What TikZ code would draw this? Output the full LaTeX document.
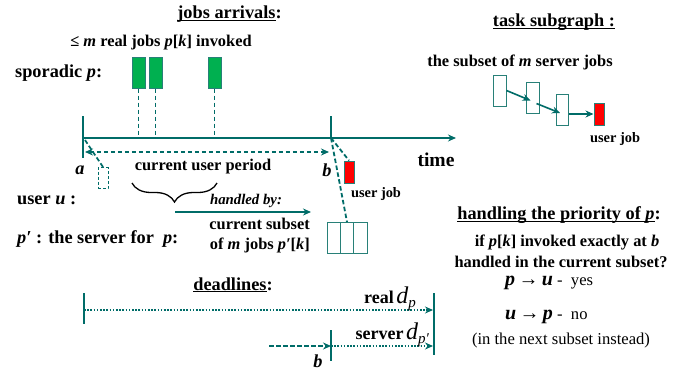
\documentclass[tikz,border=0pt]{standalone}
\usepackage{fontspec}
\setmainfont{Liberation Serif}
\usetikzlibrary{arrows.meta,decorations.pathreplacing,calc}
\definecolor{teal1}{RGB}{0,108,104}
\definecolor{jobgreen}{RGB}{0,176,80}
\definecolor{boxedge}{RGB}{40,128,120}
\newcommand{\fs}[1]{\fontsize{#1}{#1}\selectfont}
\newcommand{\ulx}[1]{\setbox0\hbox{#1}\rlap{\rule[-2.2pt]{\wd0}{1pt}}\box0}
\begin{document}
\begin{tikzpicture}[x=1pt,y=-1pt,
 lbl/.style={font=\fontsize{16.4}{20}\selectfont\bfseries, inner sep=0pt},
 ttl/.style={font=\fontsize{18.3}{21}\selectfont\bfseries, inner sep=0pt},
 sml/.style={font=\fontsize{14.4}{17}\selectfont\bfseries, inner sep=0pt},
 tline/.style={draw=teal1, line width=1.8pt},
 tickln/.style={draw=teal1, line width=2.2pt},
 dsh/.style={draw=teal1, line width=1.8pt, dash pattern=on 4.5pt off 2.5pt},
 dotln/.style={draw=teal1, line width=1.6pt, dash pattern=on 1.6pt off 1.6pt},
 gbox/.style={draw=boxedge, fill=jobgreen, line width=1pt, minimum width=13pt, minimum height=31pt, inner sep=0pt},
 wbox/.style={draw=boxedge, fill=white, line width=1pt, minimum width=13pt, minimum height=31pt, inner sep=0pt},
 rbox/.style={draw=boxedge, fill=red, line width=1pt, minimum width=10pt, minimum height=22pt, inner sep=0pt},
 arr/.style={-{Stealth[length=8pt,width=7pt]}},
]
\fill[white] (0,0) rectangle (692,370);
\useasboundingbox (0,0) rectangle (692,370);

% ---------- job arrivals ----------
\node[ttl] (tja) at (229.5,14) {\ulx{jobs arrivals}:};
\node[lbl] (tinv) at (161,43) {≤ \textit{m} real jobs \textit{p}[\textit{k}] invoked};
\node[ttl, anchor=west] (tspor) at (15,73) {sporadic \textit{p}:};

\coordinate (a) at (83,138);
\coordinate (b) at (331,138);
\coordinate (tend) at (456,138);
\coordinate (atop) at (83,116);
\coordinate (abot) at (83,158);
\coordinate (btop) at (331,116);

\node[gbox] (g1) at (138.5,72.5) {};
\node[gbox] (g2) at (155.5,72.5) {};
\node[gbox] (g3) at (214.5,72.5) {};
\draw[dsh] (g1.south) -- (g1.south |- a);
\draw[dsh] (g2.south) -- (g2.south |- a);
\draw[dsh] (g3.south) -- (g3.south |- a);

\draw[tline, arr] (a) -- (tend);
\draw[tickln] (atop) -- (abot);
\draw[tickln] (btop) -- (b);

\coordinate (pl) at (85,152);
\coordinate (pr) at (329,152);
\draw[dsh, {Stealth[length=8pt,width=7pt]}-{Stealth[length=8pt,width=7pt]}] (pl) -- (pr);

\node[draw=teal1, dash pattern=on 3pt off 2pt, line width=1pt, minimum width=10pt, minimum height=21pt, inner sep=0pt] (ghost) at (103,178) {};
\coordinate (aa) at (85,140);
\draw[dsh] (ghost.north) -- (aa);

\node[font=\fontsize{18.3}{21}\selectfont\bfseries\itshape, inner sep=0pt] (la) at (80,170) {a};
\node[font=\fontsize{18.3}{21}\selectfont\bfseries\itshape, inner sep=0pt] (lb) at (327,170) {b};
\node[lbl] (tcup) at (203,167) {current user period};
\node[font=\fontsize{19.6}{22}\selectfont\bfseries, inner sep=0pt] (ttime) at (436,160) {time};

\node[rbox] (ujob) at (349,172) {};
\node[sml] (tujob) at (376,194) {user job};
\node[wbox] (s1) at (333.5,238) {};
\node[wbox] (s2) at (347,238) {};
\node[wbox, minimum width=14pt] (s3) at (360.5,238) {};
\draw[dsh] (b) -- (ujob.north);
\draw[dsh] (b) -- (s2.north);

\draw[line width=1.3pt, decorate, decoration={brace, amplitude=19pt}] (217,183) -- (132,183);
\coordinate (hb0) at (175,212);
\coordinate (hb1) at (311,212);
\draw[tline, arr] (hb0) -- (hb1);
\node[font=\fontsize{14.8}{17}\selectfont\bfseries\itshape, inner sep=0pt] (thb) at (246,201) {handled by:};

\node[ttl, anchor=west] (tuser) at (17,200) {user \textit{u} :};
\node[ttl, anchor=west] (tserv) at (17,239) {\textit{p′} : the server for~ \textit{p}:};
\node[lbl, anchor=east, align=right] (tsub) at (310,236) {current subset\\of \textit{m} jobs \textit{p′}[\textit{k}]};

% ---------- task subgraph ----------
\node[ttl] (ttask) at (554,22) {\ulx{task subgraph :}};
\node[lbl] (tsset) at (520,62) {the subset of \textit{m} server jobs};
\node[wbox] (t1) at (499.5,90.5) {};
\node[wbox] (t2) at (532.5,97.5) {};
\node[wbox, minimum width=12pt] (t3) at (562,109.5) {};
\node[rbox] (tr) at (599,114) {};
\draw[tline, line width=1.6pt, arr] (t1.east) -- ($(t2.center)+(-2,3)$);
\draw[tline, line width=1.6pt, arr] ($(t2.east)+(-3,6)$) -- ($(t3.center)+(-2,3.5)$);
\draw[tline, line width=1.6pt, arr] (t3.east |- tr.west) -- (tr.west);
\node[sml] (tuj2) at (615,139) {user job};

% ---------- priority ----------
\node[ttl] (tprio) at (559,215) {\ulx{handling the priority of \textit{p}}:};
\node[lbl] (tif) at (567,242) {if \textit{p}[\textit{k}] invoked exactly at \textit{b}};
\node[lbl] (thcs) at (561,262) {handled in the current subset?};
\node[anchor=west, inner sep=0pt] (tyes) at (505,283) {{\fs{20}\bfseries\itshape p\,→\,u}{\fs{16.6}\ -\ \ yes}};
\node[anchor=west, inner sep=0pt] (tno) at (505,317) {{\fs{20}\bfseries\itshape u\,→\,p}{\fs{16.6}\ -\ \ no}};
\node[inner sep=0pt, font=\fs{16.6}] (tnext) at (561,340) {(in the next subset instead)};

% ---------- deadlines ----------
\node[ttl] (tdl) at (233,285) {\ulx{deadlines}:};
\coordinate (d0t) at (84,293);
\coordinate (d0b) at (84,324);
\coordinate (d0) at (84,310);
\coordinate (d1) at (433,310);
\coordinate (d1t) at (434,293);
\coordinate (d1b) at (434,355);
\draw[tickln] (d0t) -- (d0b);
\draw[tickln] (d1t) -- (d1b);
\draw[dotln, arr] (d0) -- (d1);
\node[anchor=east, inner sep=0pt] (treal) at (416,299) {{\fs{18}\bfseries real} {\fs{24}\itshape d}\raisebox{-4pt}{\fs{15}\itshape p}};

\coordinate (e0) at (269,346);
\coordinate (e1) at (331,346);
\coordinate (e1t) at (331,330);
\coordinate (e1b) at (331,361);
\coordinate (e2) at (433,346);
\draw[dsh, arr] (e0) -- (e1);
\draw[tickln] (e1t) -- (e1b);
\draw[dotln, arr] (e1) -- (e2);
\node[anchor=east, inner sep=0pt] (tserver) at (429,335) {{\fs{18}\bfseries server} {\fs{24}\itshape d}\raisebox{-4pt}{\fs{15}\itshape p′}};
\node[font=\fontsize{18.3}{21}\selectfont\bfseries\itshape, inner sep=0pt] (lb2) at (318,361) {b};
\end{tikzpicture}
\end{document}
